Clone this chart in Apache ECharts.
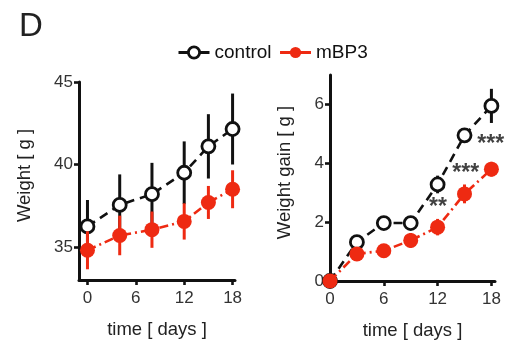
<!DOCTYPE html>
<html>
<head>
<meta charset="utf-8">
<script src="https://cdn.jsdelivr.net/npm/echarts@6/dist/echarts.min.js"></script>
<style>html,body{margin:0;padding:0;background:#fff}#c{width:521px;height:355px}</style>
</head>
<body>
<div id="c"></div>
<script>
// ---- data ----
const daysLeft = [0, 4, 8, 12, 15, 18];
const ctrlWeight = [36.25, 37.55, 38.2, 39.5, 41.1, 42.15];
const ctrlWeightErr = [1.6, 1.85, 1.9, 1.9, 1.95, 2.15];
const mbp3Weight = [34.8, 35.7, 36.05, 36.55, 37.7, 38.5];
const mbp3WeightErr = [1.15, 1.2, 1.1, 1.1, 1.0, 1.15];

const daysRight = [0, 3, 6, 9, 12, 15, 18];
const ctrlGain = [0, 1.32, 1.97, 1.97, 3.28, 4.95, 5.95];
const ctrlGainErr = [0, 0.15, 0.12, 0.2, 0.3, 0.22, 0.58];
const mbp3Gain = [0, 0.92, 1.03, 1.38, 1.83, 2.96, 3.8];
const mbp3GainErr = [0, 0.12, 0.12, 0.25, 0.28, 0.32, 0.25];

const xTicks = [0, 6, 12, 18];
const weightTicks = [35, 40, 45];
const gainTicks = [0, 2, 4, 6];

const sigLabels = ['**', '***', '***'];
const sigDays = [12.04, 15.13, 17.92];
const sigGain = [2.48, 3.65, 4.63];

const seriesNames = ['control', 'mBP3'];
// ---------------

const FONT = 'Liberation Sans, Arial, sans-serif';
const BLACK = '#111';
const RED = '#ee2a12';

function pts(xs, ys) { return xs.map((x, i) => [x, ys[i]]); }
function errs(xs, ys, es) { return xs.map((x, i) => [x, ys[i] - es[i], ys[i] + es[i]]); }

function errSeries(data, color, idx, z) {
  return {
    type: 'custom', name: 'err' + idx + color, xAxisIndex: idx, yAxisIndex: idx, z: z,
    data: data, silent: true,
    renderItem: function (params, api) {
      const x = api.value(0), lo = api.value(1), hi = api.value(2);
      const a = api.coord([x, lo]), b = api.coord([x, hi]);
      return { type: 'line', shape: { x1: a[0], y1: a[1], x2: b[0], y2: b[1] },
        style: { stroke: color, lineWidth: 3 } };
    }
  };
}

function lineSeries(name, data, idx, ctrl, z) {
  return {
    type: 'line', name: name, xAxisIndex: idx, yAxisIndex: idx, z: z,
    data: data, symbol: 'circle', symbolSize: ctrl ? 13 : 15,
    showAllSymbol: true,
    lineStyle: ctrl ? { color: BLACK, width: 2.6, type: [9, 6] }
                    : { color: RED, width: 2.6, type: [9, 4, 2, 4] },
    itemStyle: ctrl ? { color: '#fff', borderColor: BLACK, borderWidth: 2.8 }
                    : { color: RED, borderColor: RED, borderWidth: 0 },
    emphasis: { disabled: true },
    animation: false
  };
}

function xAxis(idx, min, max) {
  return {
    type: 'value', gridIndex: idx, min: min, max: max,
    name: 'time [ days ]', nameLocation: 'middle', nameGap: 40,
    nameTextStyle: { fontFamily: FONT, fontSize: 18.5, color: '#222' },
    axisLine: { onZero: false, lineStyle: { color: BLACK, width: 3 } },
    axisTick: { show: true, length: 5, customValues: xTicks, lineStyle: { color: BLACK, width: 2.6 } },
    axisLabel: { customValues: xTicks, margin: 10, fontFamily: FONT, fontSize: 17, color: '#333' },
    splitLine: { show: false }
  };
}

function yAxis(idx, min, max, ticks, name, gap) {
  return {
    type: 'value', gridIndex: idx, min: min, max: max,
    name: name, nameLocation: 'middle', nameGap: gap,
    nameTextStyle: { fontFamily: FONT, fontSize: 18.5, color: '#222', padding: [0, 0, 0, 11] },
    axisLine: { show: true, onZero: false, lineStyle: { color: BLACK, width: 3 } },
    axisTick: { show: true, length: 5, customValues: ticks, lineStyle: { color: BLACK, width: 2.6 } },
    axisLabel: { customValues: ticks, margin: 6, fontFamily: FONT, fontSize: 17, color: '#333' },
    splitLine: { show: false }
  };
}

const chart = echarts.init(document.getElementById('c'), null, { renderer: 'canvas' });
chart.setOption({
  animation: false,
  backgroundColor: '#fff',
  textStyle: { fontFamily: FONT },
  graphic: [{ type: 'text', left: 19, top: 10, style: { text: 'D', font: '33px ' + FONT, fill: '#222' } }],
  legend: {
    left: 177, top: 43, padding: 0, itemWidth: 31, itemHeight: 14, itemGap: 7,
    textStyle: { fontFamily: FONT, fontSize: 19, color: '#111' },
    data: [
      { name: seriesNames[0], itemStyle: { color: '#fff', borderColor: BLACK, borderWidth: 2.8 }, lineStyle: { type: 'solid', color: BLACK, width: 3 } },
      { name: seriesNames[1], itemStyle: { color: RED }, lineStyle: { type: 'solid', color: RED, width: 3 } }
    ]
  },
  grid: [
    { left: 79, top: 82, width: 156, height: 198 },
    { left: 330, top: 75, width: 165, height: 206 }
  ],
  xAxis: [xAxis(0, -1.05, 18.3), xAxis(1, 0, 18.4)],
  yAxis: [yAxis(0, 33, 45, weightTicks, 'Weight [ g ]', 45), yAxis(1, 0, 7, gainTicks, 'Weight gain [ g ]', 36)],
  series: [
    errSeries(errs(daysLeft, ctrlWeight, ctrlWeightErr), BLACK, 0, 1),
    lineSeries(seriesNames[0], pts(daysLeft, ctrlWeight), 0, true, 2),
    errSeries(errs(daysLeft, mbp3Weight, mbp3WeightErr), RED, 0, 3),
    lineSeries(seriesNames[1], pts(daysLeft, mbp3Weight), 0, false, 4),
    errSeries(errs(daysRight, ctrlGain, ctrlGainErr), BLACK, 1, 1),
    lineSeries(seriesNames[0], pts(daysRight, ctrlGain), 1, true, 2),
    errSeries(errs(daysRight, mbp3Gain, mbp3GainErr), RED, 1, 3),
    lineSeries(seriesNames[1], pts(daysRight, mbp3Gain), 1, false, 4),
    {
      type: 'scatter', name: 'sig', xAxisIndex: 1, yAxisIndex: 1, z: 5, silent: true,
      symbolSize: 0,
      data: sigDays.map((d, i) => ({ value: [d, sigGain[i]], label: { formatter: sigLabels[i] } })),
      label: { show: true, position: 'inside', fontFamily: FONT, fontSize: 23, fontWeight: 'bold', color: '#111' }
    }
  ]
});
</script>
</body>
</html>
